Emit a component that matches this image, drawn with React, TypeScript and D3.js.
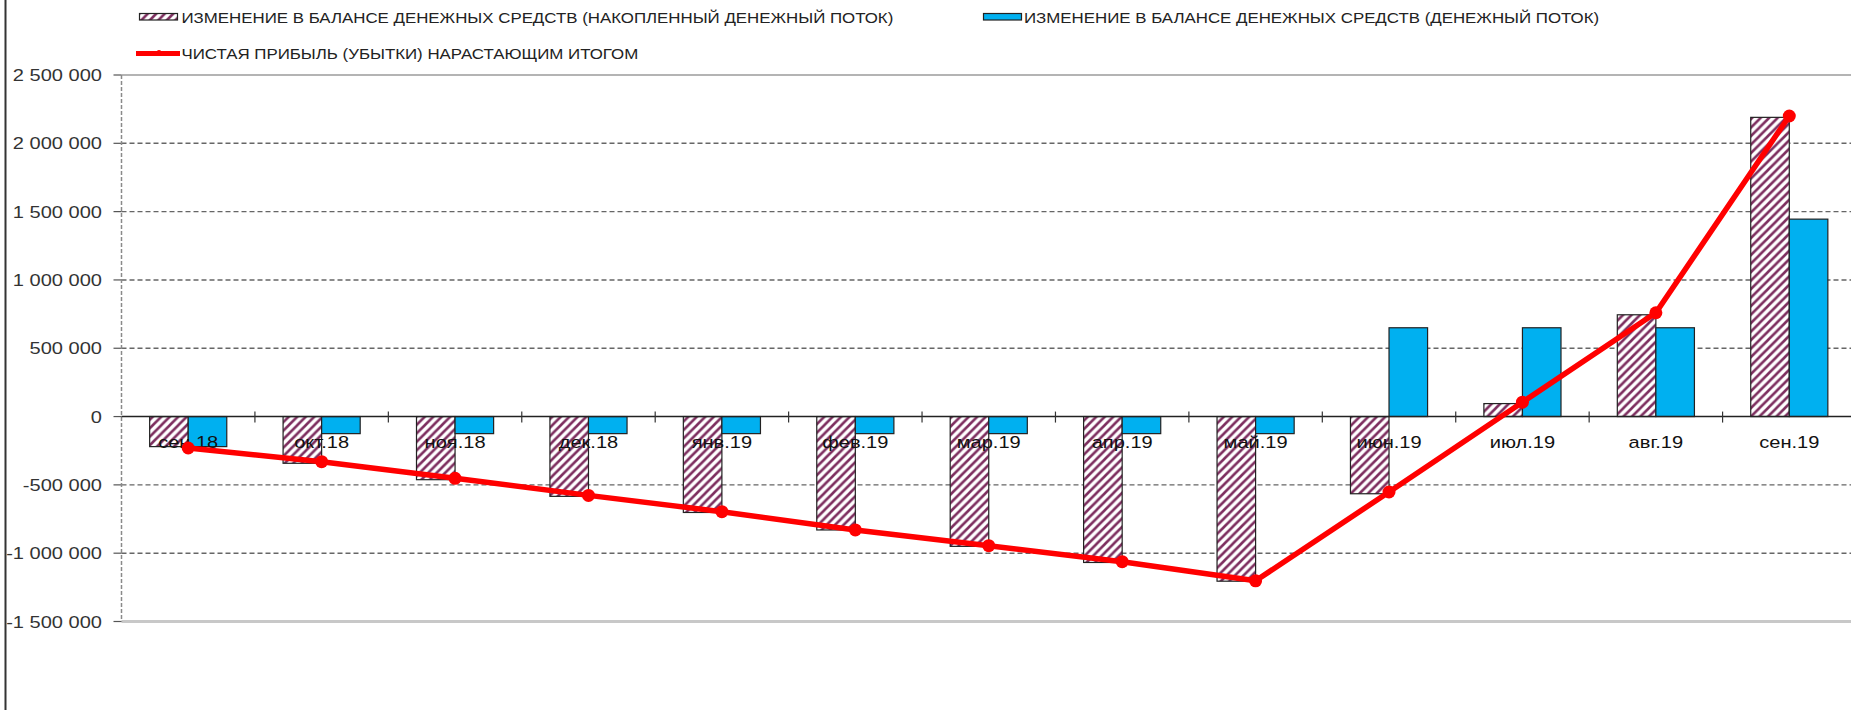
import React, { useEffect, useRef } from "react";
import * as d3 from "d3";

const categories = [
  "сен.18", "окт.18", "ноя.18", "дек.18", "янв.19", "фев.19", "мар.19",
  "апр.19", "май.19", "июн.19", "июл.19", "авг.19", "сен.19",
];

// накопленный денежный поток (hatched bars)
const cumulativeFlow = [
  -220000, -342000, -462000, -584000, -702000, -830000, -950000,
  -1068000, -1205000, -565000, 95000, 745000, 2190000,
];

// денежный поток (blue bars)
const cashFlow = [
  -220000, -125000, -125000, -125000, -125000, -125000, -125000,
  -125000, -125000, 650000, 650000, 650000, 1445000,
];

// чистая прибыль нарастающим итогом (red line)
const netProfitCum = [
  -230000, -330000, -452000, -577000, -696000, -830000, -945000,
  -1062000, -1202000, -552000, 105000, 760000, 2200000,
];

const yTicks = [2500000, 2000000, 1500000, 1000000, 500000, 0, -500000, -1000000, -1500000];

const legendNames = [
  "ИЗМЕНЕНИЕ В БАЛАНСЕ ДЕНЕЖНЫХ СРЕДСТВ (НАКОПЛЕННЫЙ ДЕНЕЖНЫЙ ПОТОК)",
  "ИЗМЕНЕНИЕ В БАЛАНСЕ ДЕНЕЖНЫХ СРЕДСТВ (ДЕНЕЖНЫЙ ПОТОК)",
  "ЧИСТАЯ ПРИБЫЛЬ (УБЫТКИ) НАРАСТАЮЩИМ ИТОГОМ",
];

const W = 1851;
const H = 710;
const SX = 1.18; // picture is stretched horizontally
const FONT = "'Liberation Sans', Arial, sans-serif";
const HATCH = "#7d2e5f";
const BLUE = "#00b0f0";
const RED = "#ff0000";

const fmt = (v: number) => d3.format(",")(v).replace(/,/g, " ").replace("−", "-");

export default function App() {
  const svgRef = useRef<SVGSVGElement>(null);

  useEffect(() => {
    if (!svgRef.current) return;
    const svg = d3.select(svgRef.current);
    svg.selectAll("*").remove();

    const left = 121.5;
    const right = 1856;
    const top = 75;
    const bottom = 621.5;

    const x = d3.scaleBand<string>().domain(categories).range([left, right]).padding(0);
    const xs = d3.scaleBand<string>().domain(["cum", "flow"]).range([0, x.bandwidth()])
      .paddingInner(0).paddingOuter(0.73);
    const y = d3.scaleLinear().domain([-1500000, 2500000]).range([bottom, top]);

    const defs = svg.append("defs");
    const P = 8.5;
    const pat = defs.append("pattern")
      .attr("id", "hatch")
      .attr("patternUnits", "userSpaceOnUse")
      .attr("width", P)
      .attr("height", P);
    pat.append("rect").attr("width", P).attr("height", P).attr("fill", "#fff");
    pat.append("path")
      .attr("d", `M-2,2 l4,-4 M0,${P} l${P},-${P} M${P - 2},${P + 2} l4,-4`)
      .attr("stroke", HATCH)
      .attr("stroke-width", 2.6);

    const txt = (g: any, xx: number, yy: number, s: string, size: number, anchor: string, color = "#222") =>
      g.append("text")
        .attr("transform", `translate(${xx},${yy}) scale(${SX},1)`)
        .attr("text-anchor", anchor)
        .style("font-family", FONT)
        .style("font-size", `${size}px`)
        .attr("fill", color)
        .text(s);

    // left frame
    svg.append("line").attr("x1", 5.5).attr("x2", 5.5).attr("y1", 0).attr("y2", H)
      .attr("stroke", "#333").attr("stroke-width", 2);

    // legend
    const lg = svg.append("g");
    lg.append("rect").attr("x", 139.5).attr("y", 13.5).attr("width", 38).attr("height", 6.5)
      .attr("fill", "url(#hatch)").attr("stroke", "#222").attr("stroke-width", 1.2);
    txt(lg, 181.5, 23, legendNames[0], 14.3, "start");
    lg.append("rect").attr("x", 983.5).attr("y", 13.5).attr("width", 38).attr("height", 6.5)
      .attr("fill", BLUE).attr("stroke", "#222").attr("stroke-width", 1.2);
    txt(lg, 1024, 23, legendNames[1], 14.3, "start");
    lg.append("line").attr("x1", 136).attr("x2", 180).attr("y1", 53.5).attr("y2", 53.5)
      .attr("stroke", RED).attr("stroke-width", 5);
    lg.append("circle").attr("cx", 159).attr("cy", 52.5).attr("r", 2.5).attr("fill", RED);
    txt(lg, 181.5, 59, legendNames[2], 14.3, "start");

    // grid
    const grid = svg.append("g");
    yTicks.forEach((t) => {
      const yy = y(t);
      if (t === 2500000) {
        grid.append("line").attr("x1", left).attr("x2", W).attr("y1", yy).attr("y2", yy)
          .attr("stroke", "#b4b4b4").attr("stroke-width", 2);
      } else if (t === -1500000) {
        grid.append("line").attr("x1", left).attr("x2", W).attr("y1", yy).attr("y2", yy)
          .attr("stroke", "#c8c8c8").attr("stroke-width", 3);
      } else if (t !== 0) {
        grid.append("line").attr("x1", left).attr("x2", W).attr("y1", yy).attr("y2", yy)
          .attr("stroke", "#666").attr("stroke-width", 1.4).attr("stroke-dasharray", "5,3");
      }
      grid.append("line").attr("x1", left - 8).attr("x2", left).attr("y1", yy).attr("y2", yy)
        .attr("stroke", "#555").attr("stroke-width", 1.2);
      txt(grid, 102, yy + 6, fmt(t), 17, "end", "#333");
    });
    // y axis (dashed)
    grid.append("line").attr("x1", left).attr("x2", left).attr("y1", top).attr("y2", bottom)
      .attr("stroke", "#8a8a8a").attr("stroke-width", 1.5).attr("stroke-dasharray", "4,2");

    // bars
    const bars = svg.append("g");
    categories.forEach((c, i) => {
      const x0 = x(c) ?? 0;
      const v1 = cumulativeFlow[i];
      bars.append("rect")
        .attr("x", x0 + (xs("cum") ?? 0))
        .attr("y", y(Math.max(0, v1)))
        .attr("width", xs.bandwidth())
        .attr("height", Math.abs(y(v1) - y(0)))
        .attr("fill", "url(#hatch)")
        .attr("stroke", "#222")
        .attr("stroke-width", 1.2);
      const v2 = cashFlow[i];
      bars.append("rect")
        .attr("x", x0 + (xs("flow") ?? 0))
        .attr("y", y(Math.max(0, v2)))
        .attr("width", xs.bandwidth())
        .attr("height", Math.abs(y(v2) - y(0)))
        .attr("fill", BLUE)
        .attr("stroke", "#222")
        .attr("stroke-width", 1.2);
    });

    // zero line + x ticks
    const z = y(0);
    svg.append("line").attr("x1", left).attr("x2", W).attr("y1", z).attr("y2", z)
      .attr("stroke", "#222").attr("stroke-width", 1.6);
    categories.slice(1).forEach((c) => {
      const xx = x(c) ?? 0;
      svg.append("line").attr("x1", xx).attr("x2", xx).attr("y1", z - 5).attr("y2", z + 6)
        .attr("stroke", "#333").attr("stroke-width", 1.2);
    });

    // category labels
    const lab = svg.append("g");
    categories.forEach((c) => {
      txt(lab, (x(c) ?? 0) + x.bandwidth() / 2, z + 31, c, 17, "middle", "#111");
    });

    // net profit line
    const pts = categories.map((c, i) => [(x(c) ?? 0) + x.bandwidth() / 2, y(netProfitCum[i])] as [number, number]);
    svg.append("path")
      .attr("d", d3.line()(pts))
      .attr("fill", "none")
      .attr("stroke", RED)
      .attr("stroke-width", 5.5)
      .attr("stroke-linejoin", "round");
    svg.append("g").selectAll("circle").data(pts).enter().append("circle")
      .attr("cx", (d) => d[0])
      .attr("cy", (d) => d[1])
      .attr("r", 6.5)
      .attr("fill", RED);
  }, []);

  return (
    <svg
      ref={svgRef}
      width={W}
      height={H}
      style={{ position: "absolute", left: 0, top: 0, background: "#fff" }}
    />
  );
}
